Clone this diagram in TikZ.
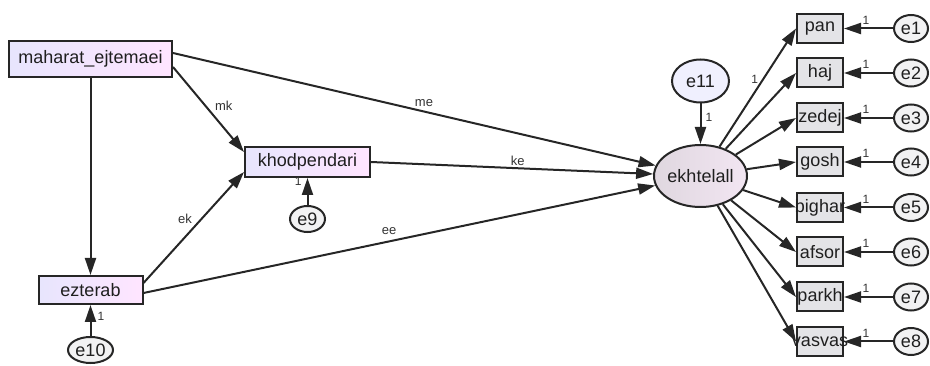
\documentclass[tikz,border=0pt]{standalone}
\usepackage{fontspec}
\setmainfont{Liberation Sans}
\usetikzlibrary{arrows.meta,shapes.geometric}

\begin{document}
\begin{tikzpicture}[x=1pt,y=-1pt,
  txt/.style={font=\fontsize{18}{20}\selectfont, text=black!88},
  lbox/.style={txt, rectangle, draw=black!85, line width=2pt, inner sep=0pt,
    left color=violet!14!blue!10, right color=magenta!10},
  rbox/.style={txt, rectangle, draw=black!85, line width=2pt, inner sep=0pt,
    minimum width=46pt, minimum height=29pt, fill=blue!6!gray!20},
  err/.style={txt, ellipse, draw=black!85, line width=2pt, inner sep=0pt,
    fill=blue!5!gray!10},
  lat/.style={txt, ellipse, draw=black!85, line width=2pt, inner sep=0pt,
    left color=violet!25!gray!25, right color=violet!10},
  arr/.style={draw=black!85, line width=2pt, -{Triangle[length=17pt,width=11pt]}},
  lab/.style={font=\fontsize{13}{15}\selectfont, text=black!80, inner sep=2pt},
  one/.style={font=\fontsize{12}{14}\selectfont, text=black!80, inner sep=2pt}]

\useasboundingbox (0,0) rectangle (930,366);

% exogenous and mediating variables
\node[lbox, minimum width=163pt, minimum height=36pt] (mah) at (90.5,59) {\makebox[0pt]{maharat\_ejtemaei}};
\node[lbox, minimum width=104pt, minimum height=28pt] (ezt) at (90.5,290) {\makebox[0pt]{ezterab}};
\node[lbox, minimum width=125pt, minimum height=30pt] (khod) at (307.5,162) {\makebox[0pt]{khodpendari}};

% latent outcome and its disturbance
\node[lat, minimum width=93pt, minimum height=62pt] (ekh) at (700.5,176) {\makebox[0pt]{ekhtelall}};
\node[err, minimum width=57pt, minimum height=43pt, fill=violet!10!blue!6] (e11) at (700.5,81) {\makebox[0pt]{e11}};

% residuals of the left-hand variables
\node[err, minimum width=45pt, minimum height=26pt] (e10) at (90.5,350) {\makebox[0pt]{e10}};
\node[err, minimum width=35pt, minimum height=26pt] (e9) at (307.5,219) {\makebox[0pt]{e9}};

% indicators and their error terms
\foreach \nm/\lb/\yy [count=\i] in {pan/pan/28.5, haj/haj/73, zed/zedej/118, gos/gosh/162,
    big/bighar/207.5, afs/afsor/252, par/parkh/297, vas/vasvas/341.5} {
  \node[rbox] (\nm) at (820,\yy) {\makebox[0pt]{\lb}};
  \node[err, minimum width=34pt, minimum height=27pt] (e\i) at (911,\yy) {\makebox[0pt]{e\i}};
  \draw[arr] (e\i) -- (\nm) node[pos=.55, above=1pt, one] {1};
}

% structural paths
\draw[arr] (mah) -- (ezt);
\draw[arr] ([yshift=-8pt]mah.east) -- ([yshift=10pt]khod.west) node[pos=.55, above right, lab] {mk};
\draw[arr] ([yshift=6pt]mah.east) -- (ekh) node[pos=.52, above=2pt, lab] {me};
\draw[arr] (khod.east) -- (ekh) node[pos=.52, above, lab] {ke};
\draw[arr] ([yshift=7pt]ezt.east) -- ([yshift=-10pt]khod.west) node[pos=.58, left=7pt, lab] {ek};
\draw[arr] ([yshift=-3pt]ezt.east) -- (ekh) node[pos=.48, above=4pt, lab] {ee};

% residual paths
\draw[arr] (e10) -- (ezt) node[pos=.62, right=4pt, one] {1};
\draw[arr] (e9) -- (khod) node[pos=.88, left=3pt, one] {1};
\draw[arr] (e11) -- (ekh) node[pos=.35, right=2pt, one] {1};

% loadings
\draw[arr] (ekh) -- (pan.west) node[pos=.57, left=2pt, one] {1};
\foreach \nm in {haj, zed, gos, big, afs, par, vas}
  \draw[arr] (ekh) -- (\nm.west);
\end{tikzpicture}
\end{document}
